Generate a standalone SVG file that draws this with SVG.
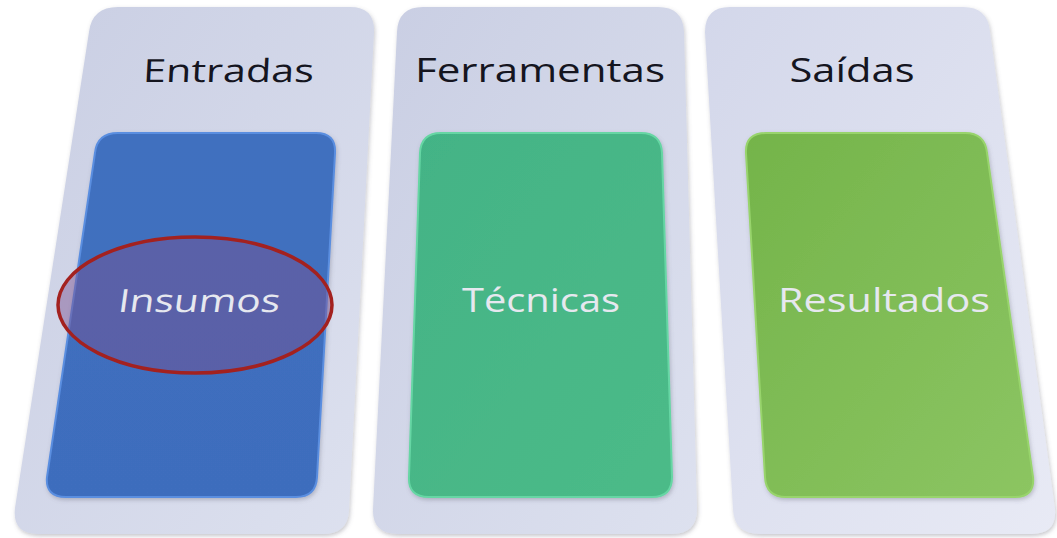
<svg xmlns="http://www.w3.org/2000/svg" width="1057" height="538" viewBox="0 0 1057 538">
<defs>
<linearGradient id="pg" x1="0" y1="0" x2="1" y2="1">
<stop offset="0" stop-color="#c9cee3"/>
<stop offset="1" stop-color="#dde1ef"/>
</linearGradient>
<linearGradient id="pg3" x1="0" y1="0" x2="1" y2="1">
<stop offset="0" stop-color="#d3d7ea"/>
<stop offset="1" stop-color="#e8eaf5"/>
</linearGradient>
<linearGradient id="gb" x1="0" y1="0" x2="0" y2="1">
<stop offset="0" stop-color="#4070bf"/>
<stop offset="1" stop-color="#3e6dbd"/>
</linearGradient>
<linearGradient id="gt" x1="0" y1="0" x2="1" y2="1">
<stop offset="0" stop-color="#43b386"/>
<stop offset="1" stop-color="#4cbb88"/>
</linearGradient>
<linearGradient id="gg" x1="0" y1="0" x2="1" y2="1">
<stop offset="0" stop-color="#74b44a"/>
<stop offset="1" stop-color="#8cc562"/>
</linearGradient>
<filter id="sh" x="-10%" y="-10%" width="120%" height="120%">
<feDropShadow dx="1" dy="2" stdDeviation="2" flood-color="#606070" flood-opacity="0.35"/>
</filter>
</defs>
<style>
.panel{stroke:none;filter:url(#sh)}
.inner{stroke-width:2;filter:url(#sh)}
.head{font-family:"Open Sans","Noto Sans",sans-serif;font-size:32px;fill:#15151f;text-anchor:middle}
.lbl{font-family:"Open Sans","Noto Sans",sans-serif;font-size:32px;fill:#e6e8ef;text-anchor:middle}
</style>
<rect width="1057" height="538" fill="#ffffff"/>
<g id="entradas">
<path class="panel" fill="url(#pg)" d="M118,7 L350,7 Q375,7 374,32 L349,510 Q348,534 323,534 L38,534 Q12,534 15,508 L89,32 Q92,7 118,7 Z"/>
<text class="head" x="228" y="82" textLength="171" lengthAdjust="spacingAndGlyphs" transform="skewX(-3) translate(4.3,0)">Entradas</text>
<path class="inner" fill="url(#gb)" stroke="#5a8ee0" d="M118,133 L316,133 Q336,133 335,153 L317,477 Q316,497 296,497 L66,497 Q45,497 47,477 L95,153 Q97,133 118,133 Z"/>
<ellipse id="destaque" cx="195" cy="305" rx="137" ry="68" fill="#7a4f8f" fill-opacity="0.45" stroke="#a3211f" stroke-width="3.5"/>
<text class="lbl" x="198" y="312" textLength="162" lengthAdjust="spacingAndGlyphs" transform="skewX(-8) translate(43.8,0)" fill="#dcdde6">Insumos</text>
</g>
<g id="ferramentas">
<path class="panel" fill="url(#pg)" d="M423,7 L658,7 Q683,7 684,32 L697,509 Q697,534 672,534 L398,534 Q372,534 373,509 L397,32 Q398,7 423,7 Z"/>
<text class="head" x="540" y="82" textLength="250" lengthAdjust="spacingAndGlyphs">Ferramentas</text>
<path class="inner" fill="url(#gt)" stroke="#66d6a4" d="M441,133 L641,133 Q661,133 662,153 L672,477 Q672,497 652,497 L429,497 Q408,497 409,477 L420,153 Q421,133 441,133 Z"/>
<text class="lbl" x="541" y="312" textLength="158" lengthAdjust="spacingAndGlyphs">Técnicas</text>
</g>
<g id="saidas">
<path class="panel" fill="url(#pg3)" d="M730,7 L963,7 Q988,7 990,32 L1055,509 Q1057,534 1032,534 L760,534 Q734,534 733,509 L705,32 Q705,7 730,7 Z"/>
<text class="head" x="852" y="82" textLength="125" lengthAdjust="spacingAndGlyphs">Saídas</text>
<path class="inner" fill="url(#gg)" stroke="#98d46c" d="M766,133 L965,133 Q985,133 987,153 L1033,477 Q1035,497 1015,497 L786,497 Q766,497 765,477 L746,153 Q745,133 766,133 Z"/>
<text class="lbl" x="884" y="312" textLength="212" lengthAdjust="spacingAndGlyphs">Resultados</text>
</g>
<g id="connectors"></g>
</svg>
